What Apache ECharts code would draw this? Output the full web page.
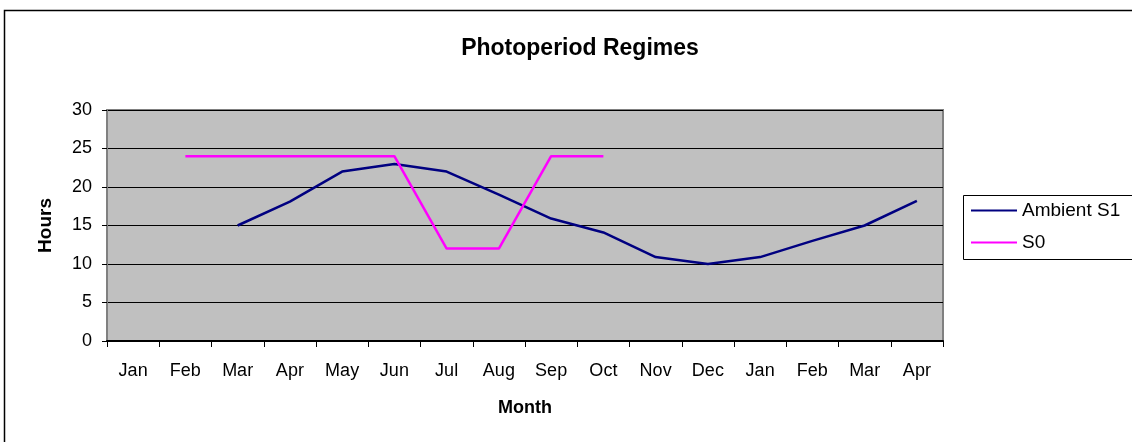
<!DOCTYPE html>
<html>
<head>
<meta charset="utf-8">
<script src="https://cdn.jsdelivr.net/npm/echarts@6/dist/echarts.min.js"></script>
<style>
  html, body { margin: 0; padding: 0; background: #fff; }
  #chart { width: 1132px; height: 442px; }
</style>
</head>
<body>
<div id="chart"></div>
<script>
// month labels along the x axis (Jan of one year to Apr of the next)
const months = ['Jan', 'Feb', 'Mar', 'Apr', 'May', 'Jun', 'Jul', 'Aug', 'Sep', 'Oct', 'Nov', 'Dec', 'Jan', 'Feb', 'Mar', 'Apr']
// Ambient S1 - starts in Mar
const ambientS1 = [null, null, 15, 18.1, 22, 23, 22, 19, 15.9, 14.1, 10.9, 10, 10.9, 13, 15, 18.2]
// S0 - Feb to Oct
const s0 = [null, 24, 24, 24, 24, 24, 12, 12, 24, 24, null, null, null, null, null, null]
const yTicks = [0, 5, 10, 15, 20, 25, 30]

const font = 'Liberation Sans, Arial, sans-serif'

let chartDom = document.getElementById('chart')
let myChart = echarts.init(chartDom)
let option = {
  animation: false,
  backgroundColor: '#ffffff',
  title: {
    text: 'Photoperiod Regimes',
    left: 575,
    top: 32,
    textAlign: 'center',
    textStyle: {
      fontFamily: font,
      fontSize: 23,
      fontWeight: 'bold',
      color: '#000'
    }
  },
  // outer chart frame and legend box
  graphic: [
    {
      type: 'rect',
      shape: {x: 4.5, y: 10.5, width: 1200, height: 500},
      style: {fill: null, stroke: '#000', lineWidth: 1.5},
      silent: true
    },
    {
      type: 'rect',
      shape: {x: 963.5, y: 195.5, width: 200, height: 64},
      style: {fill: '#fff', stroke: '#000', lineWidth: 1},
      silent: true,
      z: 0
    }
  ],
  legend: {
    orient: 'vertical',
    left: 971,
    top: 201,
    icon: 'rect',
    itemWidth: 46,
    itemHeight: 2,
    itemGap: 13,
    padding: 0,
    textStyle: {
      fontFamily: font,
      fontSize: 19,
      color: '#000'
    },
    data: ['Ambient S1', 'S0']
  },
  grid: {
    left: 107,
    top: 110,
    width: 836,
    height: 231,
    show: true,
    backgroundColor: '#c0c0c0',
    borderColor: '#808080',
    borderWidth: 2
  },
  xAxis: {
    type: 'category',
    data: months,
    boundaryGap: true,
    name: 'Month',
    nameLocation: 'middle',
    nameGap: 58,
    nameTextStyle: {
      fontFamily: font,
      fontSize: 18,
      fontWeight: 'bold',
      color: '#000'
    },
    axisLine: {
      lineStyle: {color: '#000', width: 2}
    },
    axisTick: {
      show: true,
      alignWithLabel: false,
      length: 6,
      lineStyle: {color: '#000'}
    },
    axisLabel: {
      interval: 0,
      margin: 21,
      fontFamily: font,
      fontSize: 18,
      color: '#000'
    },
    splitLine: {show: false}
  },
  yAxis: {
    type: 'value',
    min: yTicks[0],
    max: yTicks[yTicks.length - 1],
    interval: 5,
    name: 'Hours',
    nameLocation: 'middle',
    nameRotate: 90,
    nameGap: 52,
    nameTextStyle: {
      fontFamily: font,
      fontSize: 19,
      fontWeight: 'bold',
      color: '#000'
    },
    axisLine: {
      show: true,
      lineStyle: {color: '#808080', width: 2}
    },
    axisTick: {
      show: true,
      length: 5,
      lineStyle: {color: '#000'}
    },
    axisLabel: {
      margin: 15,
      fontFamily: font,
      fontSize: 18,
      color: '#000'
    },
    splitLine: {
      show: true,
      lineStyle: {color: '#000', width: 1}
    }
  },
  series: [
    {
      name: 'Ambient S1',
      type: 'line',
      data: ambientS1,
      symbol: 'none',
      connectNulls: false,
      lineStyle: {color: '#000080', width: 2.5},
      itemStyle: {color: '#000080'}
    },
    {
      name: 'S0',
      type: 'line',
      data: s0,
      symbol: 'none',
      connectNulls: false,
      lineStyle: {color: '#ff00ff', width: 2.5},
      itemStyle: {color: '#ff00ff'}
    }
  ]
}

option && myChart.setOption(option)
</script>
</body>
</html>
